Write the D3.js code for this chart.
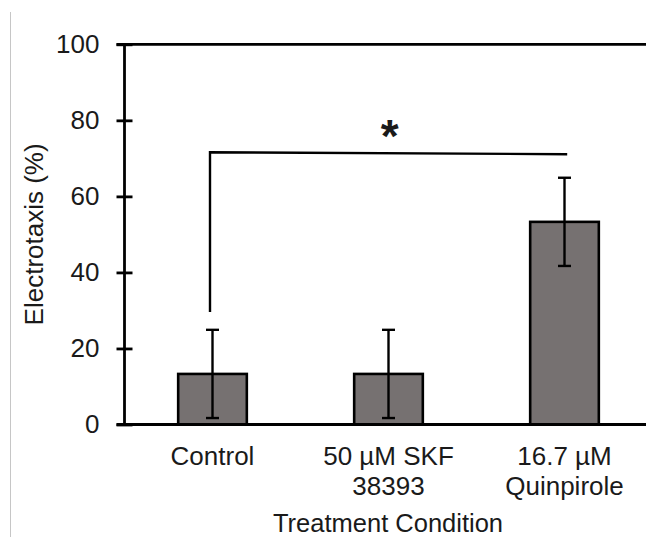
<!DOCTYPE html>
<html>
<head>
<meta charset="utf-8">
<script src="https://cdn.jsdelivr.net/npm/d3@7"></script>
<style>
  html, body { margin: 0; padding: 0; background: #fff; }
  svg { display: block; }
  text { font-family: "Liberation Sans", Arial, sans-serif; fill: #1a1a1a; }
</style>
</head>
<body>
<svg id="chart" width="646" height="537"></svg>
<script>
// ---- data ----
const categories = ["Control", "50 µM SKF 38393", "16.7 µM Quinpirole"];
const categoryLines = [["Control"], ["50 µM SKF", "38393"], ["16.7 µM", "Quinpirole"]];
const values = [13.3, 13.3, 53.3];
const errors = [11.6, 11.6, 11.6];
const yTicks = [0, 20, 40, 60, 80, 100];
const yLabel = "Electrotaxis (%)";
const xLabel = "Treatment Condition";
const sigFrom = "Control";
const sigTo = "16.7 µM Quinpirole";
const sigLevels = [29.6, 71.6, 71.1]; // bracket: left foot, left top, right top
const sigMark = "*";

// ---- layout ----
const svg = d3.select("#chart");
const plotLeft = 124.5, plotRight = 652.5, plotTop = 44.3, plotBottom = 424.5;

const x = d3.scaleBand().domain(categories).range([plotLeft, plotRight])
  .paddingInner(0.61).paddingOuter(0.305);
const y = d3.scaleLinear().domain([0, 100]).range([plotBottom, plotTop]);

// left light border line
svg.append("line").attr("x1", 10.5).attr("x2", 10.5).attr("y1", 12).attr("y2", 537)
  .attr("stroke", "#c6c6c6").attr("stroke-width", 1);

// bars
svg.append("g").selectAll("rect").data(categories).join("rect")
  .attr("x", d => x(d))
  .attr("y", (d, i) => y(values[i]))
  .attr("width", x.bandwidth())
  .attr("height", (d, i) => y(0) - y(values[i]))
  .attr("fill", "#767171")
  .attr("stroke", "#000")
  .attr("stroke-width", 2.6);

// error bars
const eb = svg.append("g").attr("stroke", "#000").attr("stroke-width", 2.4);
categories.forEach((c, i) => {
  const cx = x(c) + x.bandwidth() / 2;
  const hi = y(values[i] + errors[i]), lo = y(values[i] - errors[i]);
  eb.append("line").attr("x1", cx).attr("x2", cx).attr("y1", hi).attr("y2", lo);
  eb.append("line").attr("x1", cx - 6.5).attr("x2", cx + 6.5).attr("y1", hi).attr("y2", hi);
  eb.append("line").attr("x1", cx - 6.5).attr("x2", cx + 6.5).attr("y1", lo).attr("y2", lo);
});

// y axis
const yAxis = d3.axisLeft(y).tickValues(yTicks).tickSize(8).tickPadding(17).tickFormat(d3.format("d"));
const gy = svg.append("g").attr("transform", `translate(${plotLeft},0)`).call(yAxis);
gy.select(".domain").remove();
gy.selectAll(".tick line").attr("x1", -8).attr("x2", 8).attr("stroke", "#000").attr("stroke-width", 2.8);
gy.selectAll(".tick text").attr("font-size", 26).attr("font-family", "Liberation Sans, Arial, sans-serif")
  .attr("fill", "#1a1a1a");
svg.append("line").attr("x1", plotLeft).attr("x2", plotLeft).attr("y1", y(100)).attr("y2", y(0))
  .attr("stroke", "#000").attr("stroke-width", 2.8);

// top and bottom frame lines
svg.append("line").attr("x1", plotLeft - 8).attr("x2", 646).attr("y1", y(100)).attr("y2", y(100))
  .attr("stroke", "#000").attr("stroke-width", 2.8);
svg.append("line").attr("x1", plotLeft - 8).attr("x2", 646).attr("y1", y(0)).attr("y2", y(0))
  .attr("stroke", "#000").attr("stroke-width", 2.8);

// category labels
categories.forEach((c, i) => {
  const cx = x(c) + x.bandwidth() / 2;
  const t = svg.append("text").attr("text-anchor", "middle").attr("font-size", 26);
  categoryLines[i].forEach((ln, k) => {
    t.append("tspan").attr("x", cx).attr("y", 465 + k * 30).text(ln);
  });
});

// axis titles
svg.append("text").attr("text-anchor", "middle").attr("font-size", 25.5)
  .attr("x", 388).attr("y", 531.5).text(xLabel);
svg.append("text").attr("text-anchor", "middle").attr("font-size", 26)
  .attr("transform", `translate(42.5,${(plotBottom + plotTop) / 2}) rotate(-90)`).text(yLabel);

// significance bracket
const bx1 = x(sigFrom) + x.bandwidth() / 2 - 2.5;
const bx2 = x(sigTo) + x.bandwidth() / 2 + 2.7;
svg.append("path")
  .attr("d", `M${bx1},${y(sigLevels[0])}L${bx1},${y(sigLevels[1])}L${bx2},${y(sigLevels[2])}`)
  .attr("fill", "none").attr("stroke", "#000").attr("stroke-width", 2.4);
svg.append("text").attr("text-anchor", "middle").attr("font-size", 46).attr("font-weight", "bold")
  .attr("x", (bx1 + bx2) / 2 + 1).attr("y", 152).text(sigMark);
</script>
</body>
</html>
